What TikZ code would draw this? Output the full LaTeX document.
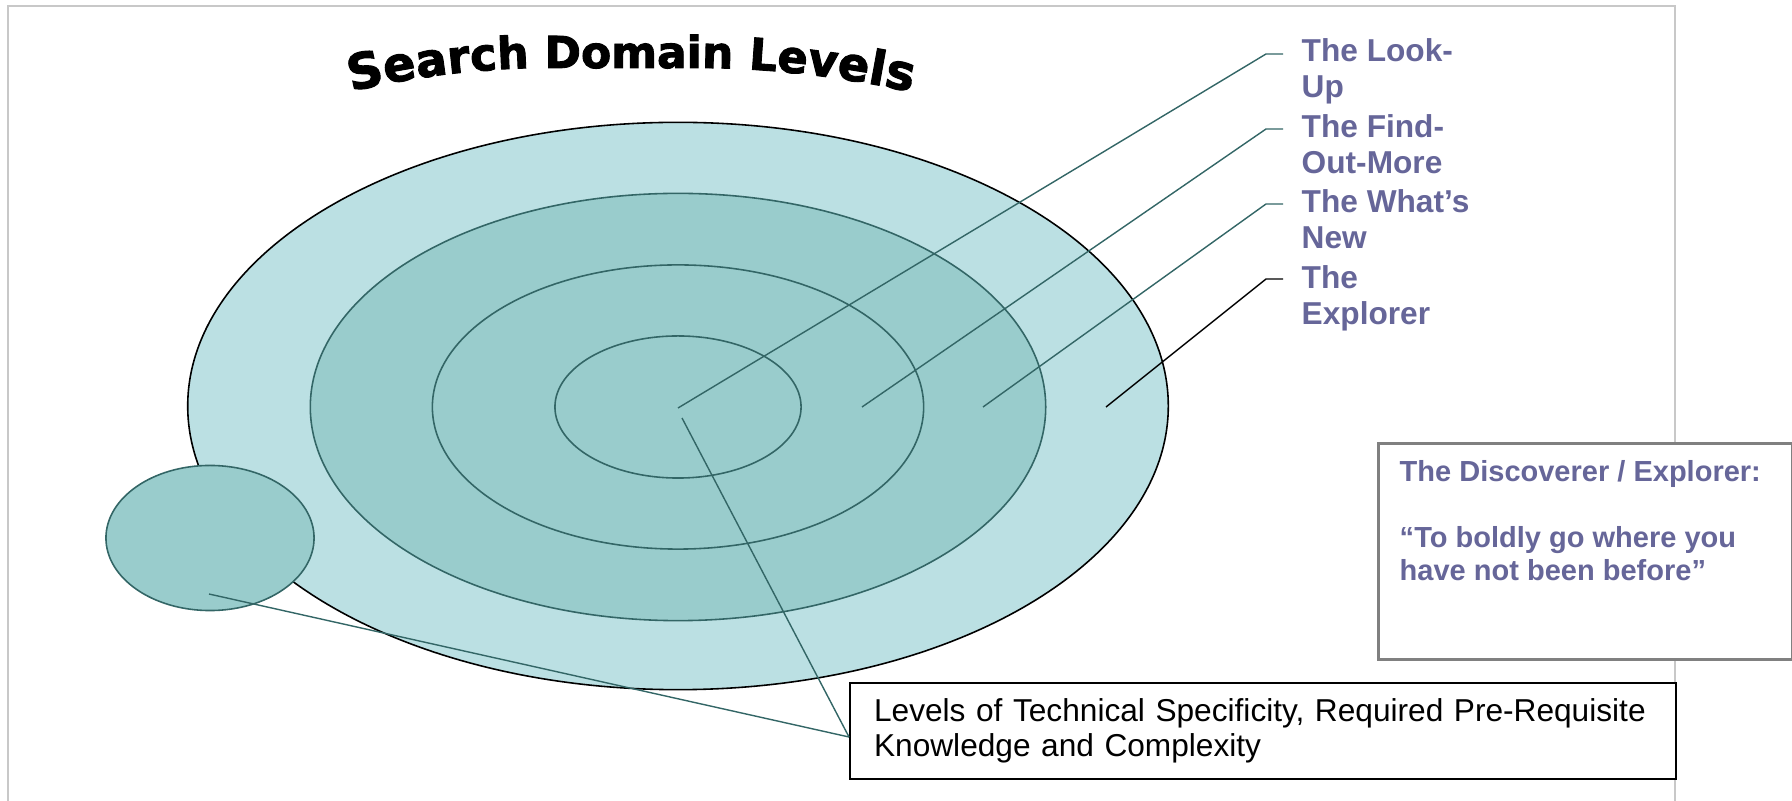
\documentclass[tikz,border=0pt]{standalone}
\usepackage{fontspec}
\setmainfont{Liberation Sans}
\newfontfamily\titlefont{DejaVu Sans}[BoldFeatures={FakeBold=2}]
\usetikzlibrary{shapes.geometric,positioning,decorations.text}
\definecolor{outerfill}{HTML}{BBE0E3}
\definecolor{ringfill}{HTML}{99CCCC}
\definecolor{ringline}{HTML}{336666}
\definecolor{labelcol}{HTML}{666699}
\definecolor{framegray}{HTML}{C8C8C8}
\definecolor{boxgray}{HTML}{808080}
\newcommand{\ts}[1]{\titlefont\bfseries\fontsize{#1}{#1}\selectfont}

\begin{document}
\begin{tikzpicture}[x=0.01cm, y=-0.01cm]
      \tikzset{ring/.style={ellipse, draw=ringline, fill=ringfill, inner sep=0pt, line width=0.45pt},
               leader/.style={draw=ringline, line width=0.4pt},
               level/.style={anchor=north west, inner sep=0pt, align=left, text=labelcol, font=\bfseries\fontsize{9}{10.25}\selectfont}}
      \useasboundingbox (0,0) rectangle (1792,801);
%% Frame
      \draw[framegray, line width=0.6pt] (8,801) -- (8,6) -- (1675,6) -- (1675,801);
%% Title
      \path[decorate, decoration={text along path, text align=center,
            text={|\ts{14}|S|\ts{13.6}|e|\ts{13.2}|a|\ts{13}|r|\ts{12.8}|c|\ts{12.6}|h|\ts{12.5}| Domain |\ts{12.5}|L|\ts{12.7}|e|\ts{13}|v|\ts{13.2}|e|\ts{13.5}|l|\ts{14}|s}}]
            (338,95) .. controls (400,78) and (480,68) .. (545,68) -- (700,68)
            .. controls (780,68) and (860,80) .. (925,95);
%% Rings
      \node[ring, draw=black, fill=outerfill, minimum width=9.8cm, minimum height=5.67cm] (explorer) at (678,406) {};
      \node[ring, minimum width=7.35cm, minimum height=4.27cm] (whatsnew) at (678,407) {};
      \node[ring, minimum width=4.91cm, minimum height=2.84cm] (findout) at (678,407) {};
      \node[ring, minimum width=2.46cm, minimum height=1.42cm] (lookup) at (678,407) {};
      \node[ring, minimum width=2.08cm, minimum height=1.45cm] (extra) at (210,538) {};
%% Labels
      \node[level] (lookuplab) at (1301,38) {The Look-\\Up};
      \node[level] (findlab) at (1301,114) {The Find-\\Out-More};
      \node[level] (whatslab) at (1301,189) {The What’s\\New};
      \node[level] (explorerlab) at (1301,265) {The\\Explorer};
%% Boxes
      \node[draw=black, line width=0.6pt, fill=white, anchor=north west, minimum height=0.96cm,
            inner xsep=0.24cm, text width=7.77cm, align=left, font=\fontsize{9}{9.96}\selectfont] (levelsbox) at (849,682)
            {Levels of Technical Specificity, Required Pre-Requisite\\Knowledge and Complexity};
      \node[draw=boxgray, line width=0.8pt, fill=white, anchor=north west, minimum width=4.14cm, minimum height=2.16cm] (discbox) at (1377,442) {};
      \node[below right=0.18cm and 0.22cm of discbox.north west, inner sep=0pt, align=left, text=labelcol,
            font=\bfseries\fontsize{8.25}{9.39}\selectfont] (disctext)
            {The Discoverer / Explorer:\\[9.39pt]“To boldly go where you\\have not been before”};
%% Points
      \coordinate (lookupdot) at (678,408);
      \coordinate (finddot) at (862,407);
      \coordinate (whatsdot) at (983,407);
      \coordinate (explorerdot) at (1106,407);
      \coordinate (lookupbend) at (1266,54);
      \coordinate (findbend) at (1266,129);
      \coordinate (whatsbend) at (1266,204);
      \coordinate (explorerbend) at (1266,279);
      \coordinate (lookupend) at (1283,54);
      \coordinate (findend) at (1283,129);
      \coordinate (whatsend) at (1283,204);
      \coordinate (explorerend) at (1283,279);
      \coordinate (lookuptip) at (682,418);
      \coordinate (extradot) at (209,594);
      \coordinate (boxpin) at (849,737);
%% Leaders
      \draw[leader] (lookupdot) -- (lookupbend) -- (lookupend);
      \draw[leader] (finddot) -- (findbend) -- (findend);
      \draw[leader] (whatsdot) -- (whatsbend) -- (whatsend);
      \draw[leader, draw=black] (explorerdot) -- (explorerbend) -- (explorerend);
      \draw[leader] (lookuptip) -- (boxpin);
      \draw[leader] (extradot) -- (boxpin);
\end{tikzpicture}
\end{document}
